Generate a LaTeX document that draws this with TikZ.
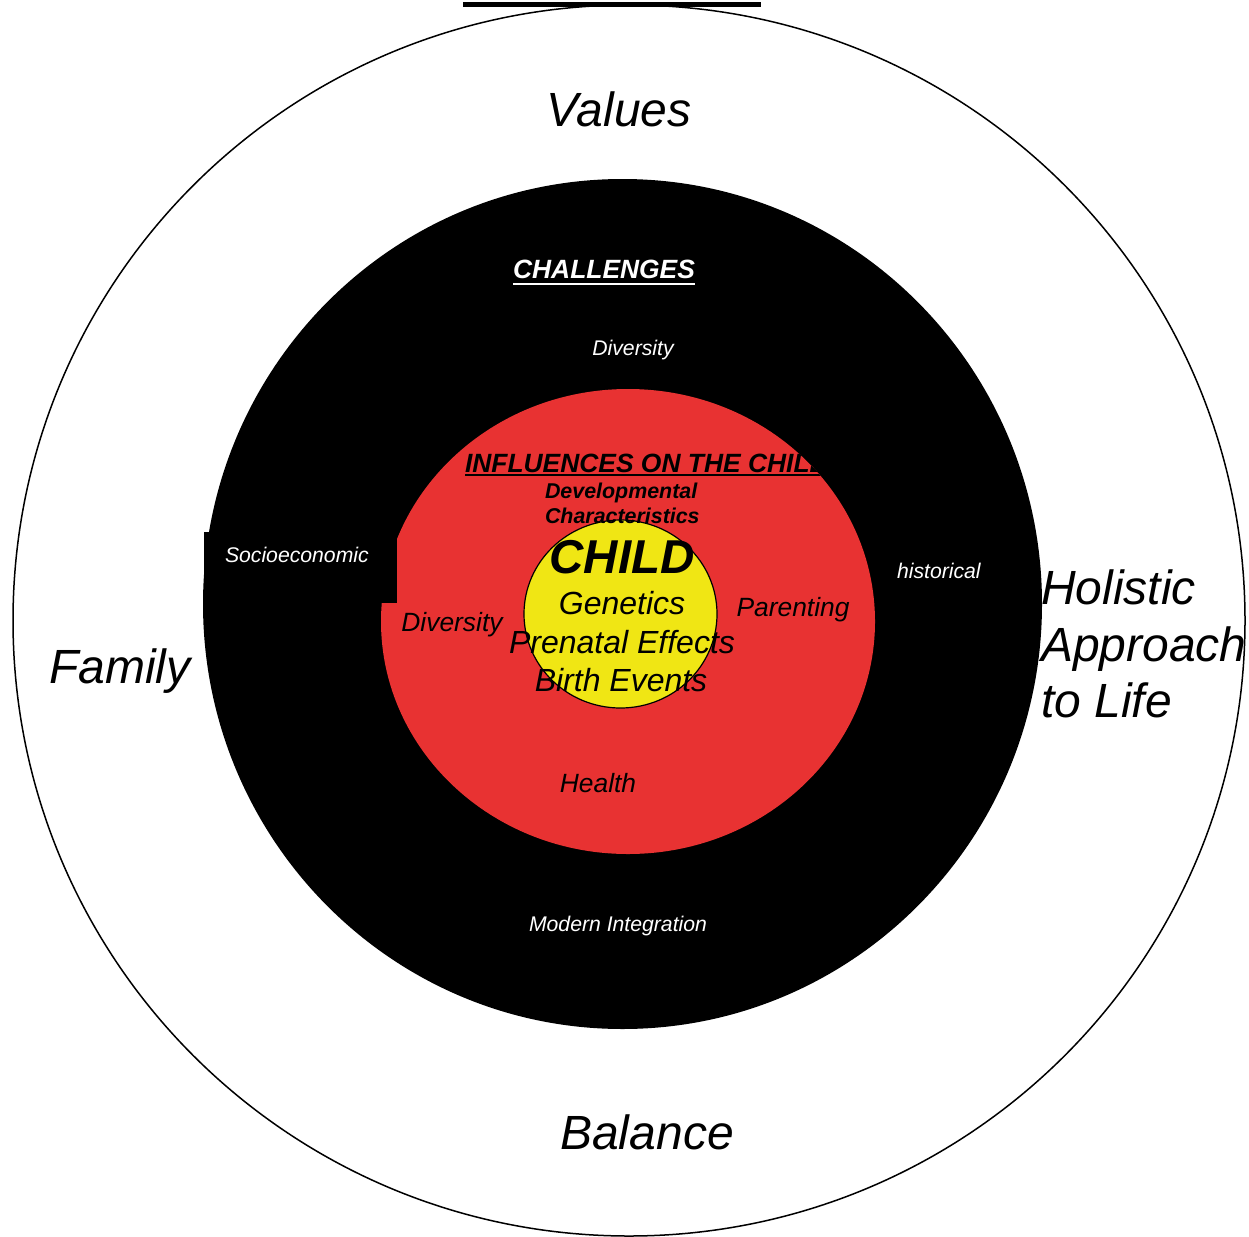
\documentclass[tikz,border=0pt]{standalone}
\usepackage{fontspec}
\setmainfont{Liberation Sans}
\definecolor{ringred}{RGB}{232,50,50}
\definecolor{childyellow}{RGB}{240,230,20}
\begin{document}
\begin{tikzpicture}[x=1pt,y=-1pt,
  lbl/.style={inner sep=0pt,outer sep=0pt,font=\itshape},
  big/.style={lbl,font=\fontsize{48}{56}\selectfont\itshape},
  mid/.style={lbl,font=\fontsize{32}{38}\selectfont\itshape},
  red26/.style={lbl,font=\fontsize{26.4}{30}\selectfont\itshape},
  small/.style={lbl,text=white,font=\fontsize{21.2}{25}\selectfont\itshape},
  heading/.style={lbl,font=\fontsize{26.4}{30}\selectfont\bfseries\itshape}]
\useasboundingbox (0,0) rectangle (1249,1236);
\fill[white] (0,0) rectangle (1249,1236);
% outer ring
\draw[line width=1.5pt] (629,620.5) ellipse [x radius=616pt, y radius=615.5pt];
\fill[black] (463,2) rectangle (761,7);
% black ring
\fill[black] (622.5,604) ellipse [x radius=419.5pt, y radius=425pt];
% red ring
\fill[ringred] (628,621.5) ellipse [x radius=247pt, y radius=232.5pt];
% socioeconomic patch
\fill[black] (204,532) rectangle (397,603);
% yellow centre
\filldraw[fill=childyellow,draw=black,line width=1.2pt] (620.5,614) ellipse [x radius=96.5pt, y radius=94pt];

% outer labels
\node[big,anchor=base] (values) at (619,126) {Values};
\node[big,anchor=base] (balance) at (647,1149) {Balance};
\node[big,anchor=base] (family) at (120,683) {Family};
\node[big,anchor=base west] (hol1) at (1041,604) {Holistic};
\node[big,anchor=base west] (hol2) at (1041,661) {Approach};
\node[big,anchor=base west] (hol3) at (1041,717) {to Life};

% challenges ring
\node[heading,text=white,anchor=base] (chal) at (604,278) {CHALLENGES};
\draw[white,line width=2pt] (chal.base west)++(0,6) -- ([yshift=-6pt]chal.base east);
\node[small,anchor=base] (div1) at (633,355) {Diversity};
\node[small,anchor=base west] (socio) at (225,562) {Socioeconomic};
\node[small,anchor=base west] (hist) at (897,578) {historical};
\node[small,anchor=base,font=\fontsize{21.2}{24}\selectfont\itshape] (modern) at (618,931) {Modern Integration};

% influences ring
\begin{scope}
\clip (628,621.5) ellipse [x radius=247pt, y radius=232.5pt];
\node[heading,anchor=base west] (infl) at (465,472) {INFLUENCES ON THE CHILD};
\draw[black,line width=2pt] (infl.base west)++(0,3) -- ([yshift=-3pt]infl.base east);
\end{scope}
\node[lbl,anchor=base west,font=\fontsize{21.4}{25}\selectfont\bfseries\itshape] (dev1) at (545,498) {Developmental};
\node[lbl,anchor=base west,font=\fontsize{21.4}{25}\selectfont\bfseries\itshape] (dev2) at (545,523) {Characteristics};
\node[red26,anchor=base] (div2) at (452,631) {Diversity};
\node[red26,anchor=base] (parent) at (793,616) {Parenting};
\node[red26,anchor=base] (health) at (598,792) {Health};

% child
\node[lbl,anchor=base,font=\fontsize{47.5}{56}\selectfont\bfseries\itshape] (child) at (622,573) {CHILD};
\node[mid,anchor=base] (gen) at (622,614) {Genetics};
\node[mid,anchor=base] (pre) at (622,653) {Prenatal Effects};
\node[mid,anchor=base] (birth) at (621,691) {Birth Events};
\end{tikzpicture}
\end{document}
